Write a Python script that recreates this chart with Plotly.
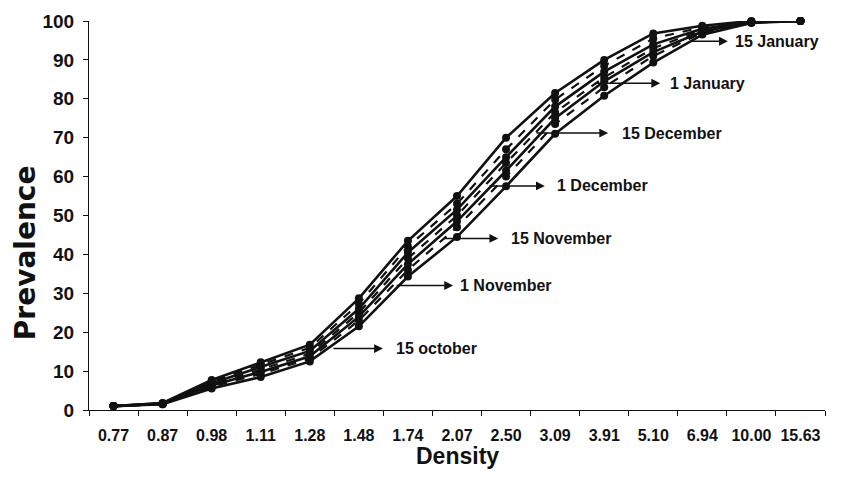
import plotly.graph_objects as go

density = ["0.77", "0.87", "0.98", "1.11", "1.28", "1.48", "1.74", "2.07",
           "2.50", "3.09", "3.91", "5.10", "6.94", "10.00", "15.63"]

oct15 = [1.0, 1.5, 5.5, 8.5, 12.5, 21.5, 34.3, 44.5, 57.5, 71.0, 80.8, 89.3, 96.5, 99.5, 100]
nov01 = [1.0, 1.5, 6.0, 9.3, 13.2, 23.0, 36.0, 47.0, 60.0, 73.5, 83.0, 91.0, 97.0, 99.6, 100]
nov15 = [1.0, 1.6, 6.3, 9.8, 13.8, 24.0, 37.5, 48.5, 61.5, 75.0, 84.5, 92.0, 97.3, 99.7, 100]
dec01 = [1.0, 1.6, 6.6, 10.4, 14.5, 25.0, 39.0, 50.0, 63.5, 76.5, 85.5, 93.0, 97.7, 99.8, 100]
dec15 = [1.0, 1.7, 6.9, 11.0, 15.2, 26.0, 40.5, 51.5, 65.0, 78.0, 87.0, 94.0, 98.0, 99.8, 100]
jan01 = [1.0, 1.7, 7.3, 11.6, 16.0, 27.3, 42.0, 53.0, 67.0, 79.8, 88.5, 95.5, 98.4, 99.9, 100]
jan15 = [1.0, 1.8, 7.7, 12.3, 16.8, 28.7, 43.5, 55.0, 70.0, 81.5, 90.0, 96.8, 98.8, 100, 100]

series_names = ["15 october", "1 November", "15 November", "1 December",
                "15 December", "1 January", "15 January"]
series_values = [oct15, nov01, nov15, dec01, dec15, jan01, jan15]
series_dash = ["solid", "dash", "solid", "dash", "solid", "dash", "solid"]

# annotation arrows: (tail x-index, head x-index, text x-index, y value)
label_tail_x = [4.45, 5.74, 6.71, 7.63, 8.59, 9.81, 11.75]
label_head_x = [5.49, 6.92, 7.84, 8.79, 10.08, 11.14, 12.52]
label_text_x = [5.72, 7.02, 8.06, 9.00, 10.32, 11.30, 12.62]
label_y = [15.8, 32.0, 44.1, 57.6, 71.2, 84.0, 94.8]

FONT = "Liberation Sans, Arial, sans-serif"

fig = go.Figure()
for name, vals, dash in zip(series_names, series_values, series_dash):
    fig.add_trace(go.Scatter(
        x=density, y=vals, mode="lines+markers", name=name,
        line=dict(color="#111111", width=2.6 if dash == "solid" else 2.2, dash=dash),
        marker=dict(color="#111111", size=8),
        cliponaxis=False, showlegend=False,
    ))

for name, tx, hx, lx, ly in zip(series_names, label_tail_x, label_head_x, label_text_x, label_y):
    fig.add_annotation(x=hx, y=ly, ax=tx, ay=ly, axref="x", ayref="y",
                       xref="x", yref="y", text="", showarrow=True,
                       arrowhead=2, arrowsize=1.1, arrowwidth=1.6, arrowcolor="#111111")
    fig.add_annotation(x=lx, y=ly, xref="x", yref="y", text="<b>%s</b>" % name,
                       showarrow=False, xanchor="left", yanchor="middle",
                       font=dict(family=FONT, size=16, color="#111111"))

fig.add_annotation(x=-0.086, y=0.405, xref="paper", yref="paper", text="<b>Prevalence</b>",
                   textangle=-90, showarrow=False, xanchor="center", yanchor="middle",
                   font=dict(family="DejaVu Sans, sans-serif", size=28, color="#111111"))
fig.add_annotation(x=0.5, y=-0.117, xref="paper", yref="paper", text="<b>Density</b>",
                   showarrow=False, xanchor="center", yanchor="middle",
                   font=dict(family=FONT, size=23, color="#111111"))

fig.update_xaxes(type="category", range=[-0.5, 14.5], showline=True, linecolor="#111111",
                 linewidth=1.2, ticks="outside", ticklen=5, tickcolor="#111111",
                 tickson="boundaries", showgrid=False, zeroline=False, automargin=False,
                 tickangle=0, ticklabelstandoff=11,
                 tickfont=dict(family=FONT, size=16, color="#111111"),
                 tickprefix="<b>", ticksuffix="</b>")
fig.update_yaxes(range=[0, 100], dtick=10, showline=True, linecolor="#111111",
                 linewidth=1.2, ticks="outside", ticklen=5, tickcolor="#111111",
                 showgrid=False, zeroline=False, automargin=False,
                 ticklabelstandoff=5,
                 tickfont=dict(family=FONT, size=19, color="#111111"),
                 tickprefix="<b>", ticksuffix="</b>")

fig.update_layout(width=840, height=470, margin=dict(l=81, r=23, t=13, b=68),
                  plot_bgcolor="white", paper_bgcolor="white")

fig.write_html("out.html")
